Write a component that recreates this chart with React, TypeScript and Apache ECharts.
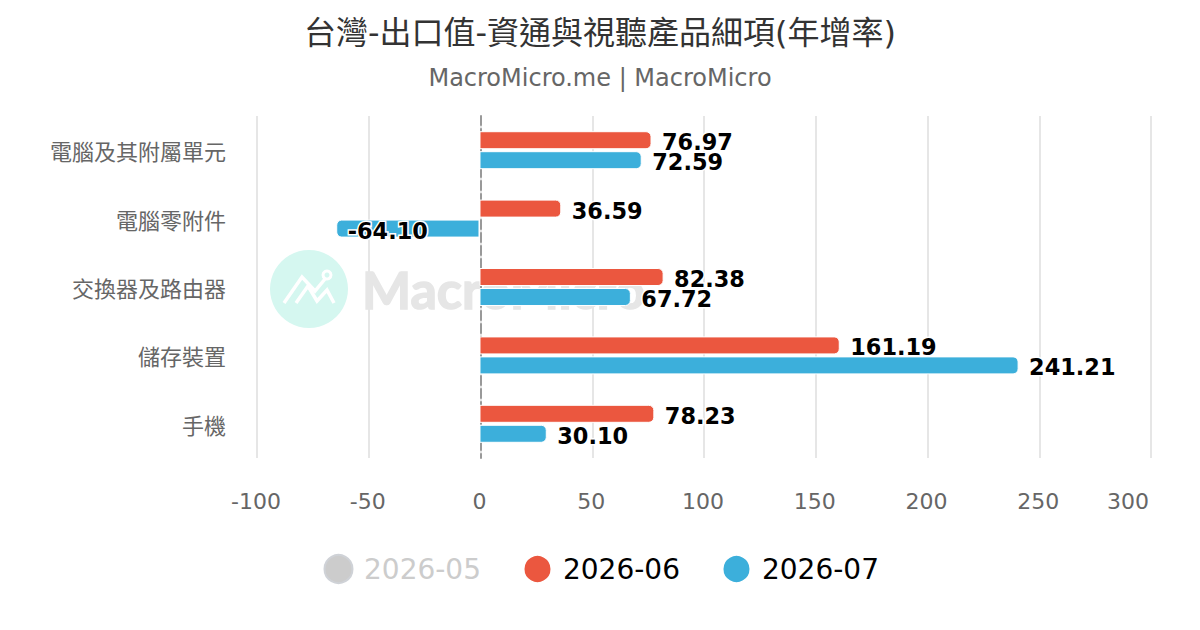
import React, { useEffect, useRef } from "react";
import * as echarts from "echarts";

const FONT = "'DejaVu Sans','Noto Sans CJK TC',sans-serif";
const categories = ["電腦及其附屬單元", "電腦零附件", "交換器及路由器", "儲存裝置", "手機"];
const seriesMay: number[] = [];
const seriesJun = [76.97, 36.59, 82.38, 161.19, 78.23];
const seriesJul = [72.59, -64.1, 67.72, 241.21, 30.1];
const titleText = "台灣-出口值-資通與視聽產品細項(年增率)";
const subtitleText = "MacroMicro.me | MacroMicro";
const watermarkText = "MacroMicro";

const makeData = (vals: number[], labelDy: number) =>
  vals.map((v) => ({
    value: v,
    itemStyle: { borderRadius: v < 0 ? [5, 0, 0, 5] : [0, 5, 5, 0] },
    label: v < 0
      ? { position: "insideLeft", distance: 11.5, offset: [0, labelDy] }
      : { position: "right", distance: 10.5, offset: [0, labelDy] },
  }));

const barLabel = {
  show: true,
  formatter: (p: any) => Number(p.value).toFixed(2),
  fontFamily: FONT,
  fontSize: 22.4,
  fontWeight: "bold",
  color: "#000",
  textBorderColor: "#fff",
  textBorderWidth: 3,
};

const barBase = {
  type: "bar",
  xAxisIndex: 1,
  barWidth: 18,
  barGap: "11%",
};
const barBorder = { borderColor: "#fff", borderWidth: 1 };

export default function App() {
  const ref = useRef<HTMLDivElement>(null);
  useEffect(() => {
    document.body.style.margin = "0";
    const chart = echarts.init(ref.current!, null, { renderer: "svg" });
    chart.setOption({
      animation: false,
      backgroundColor: "#fff",
      textStyle: { fontFamily: FONT },
      title: {
        text: titleText,
        subtext: subtitleText,
        left: "center",
        top: 12,
        itemGap: 17,
        textStyle: { fontFamily: FONT, fontSize: 32, fontWeight: "normal", color: "#333" },
        subtextStyle: { fontFamily: FONT, fontSize: 24, color: "#666" },
      },
      legend: {
        left: 318.5,
        top: 549,
        icon: "circle",
        itemWidth: 28,
        itemHeight: 28,
        itemGap: 41.5,
        inactiveColor: "#ccc",
        textStyle: { fontFamily: FONT, fontSize: 28, color: "#000", padding: [6, 0, 0, 6.5] },
        selected: { "2026-05": false, "2026-06": true, "2026-07": true },
        data: ["2026-05", "2026-06", "2026-07"],
      },
      grid: { left: 257, right: 49, top: 116, bottom: 172, containLabel: false, outerBoundsMode: "none" },
      xAxis: [
        {
          type: "value",
          min: -100,
          max: 300,
          interval: 50,
          axisLine: { show: false },
          axisTick: { show: false },
          splitLine: { show: true, lineStyle: { color: "#e6e6e6", width: 2 } },
          axisLabel: {
            fontFamily: FONT,
            fontSize: 22,
            color: "#666",
            margin: 32,
            padding: [0, 2, 0, 0],
            alignMaxLabel: "right",
          },
        },
        {
          type: "value",
          show: false,
          min: -99.55,
          max: 300.45,
          splitLine: { show: false },
        },
      ],
      yAxis: {
        type: "category",
        inverse: true,
        data: categories,
        axisTick: { show: false },
        axisLine: { show: true, onZero: true, lineStyle: { color: "#999", width: 2, type: [9, 4] } },
        splitLine: { show: false },
        axisLabel: {
          fontFamily: FONT,
          margin: 31,
          align: "right",
          formatter: (v: string) => `{a|${v}}`,
          rich: { a: { fontFamily: FONT, fontSize: 22, color: "#666", padding: [5, 0, 0, 0] } },
        },
      },
      graphic: [
        { type: "circle", z: -10, silent: true, shape: { cx: 309, cy: 289, r: 39 }, style: { fill: "#d5f7f0" } },
        { type: "polyline", z: -9, silent: true, shape: { points: [[284, 303], [302, 277], [315, 291], [325, 279]] }, style: { fill: "none", stroke: "#fff", lineWidth: 3.5 } },
        { type: "polyline", z: -9, silent: true, shape: { points: [[296, 303], [308, 286], [317, 301], [327, 290], [334, 303]] }, style: { fill: "none", stroke: "#fff", lineWidth: 3.5 } },
        { type: "circle", z: -9, silent: true, shape: { cx: 327, cy: 275, r: 4 }, style: { fill: "none", stroke: "#fff", lineWidth: 3 } },
        { type: "text", z: -10, silent: true, x: 362, y: 263, style: { text: watermarkText, fontFamily: "Lato", fontSize: 52, fontWeight: "bold", fill: "#e6e6e6", stroke: "#e6e6e6", lineWidth: 1.5 } },
      ],
      series: [
        { ...barBase, name: "2026-05", data: seriesMay, itemStyle: { color: "#cccccc", ...barBorder } },
        { ...barBase, name: "2026-06", data: makeData(seriesJun, 2), itemStyle: { color: "#eb573f", ...barBorder }, label: barLabel },
        { ...barBase, name: "2026-07", data: makeData(seriesJul, 2), itemStyle: { color: "#3cafdb", ...barBorder }, label: barLabel },
      ],
    });
    return () => chart.dispose();
  }, []);
  return <div ref={ref} style={{ width: 1200, height: 630 }} />;
}
